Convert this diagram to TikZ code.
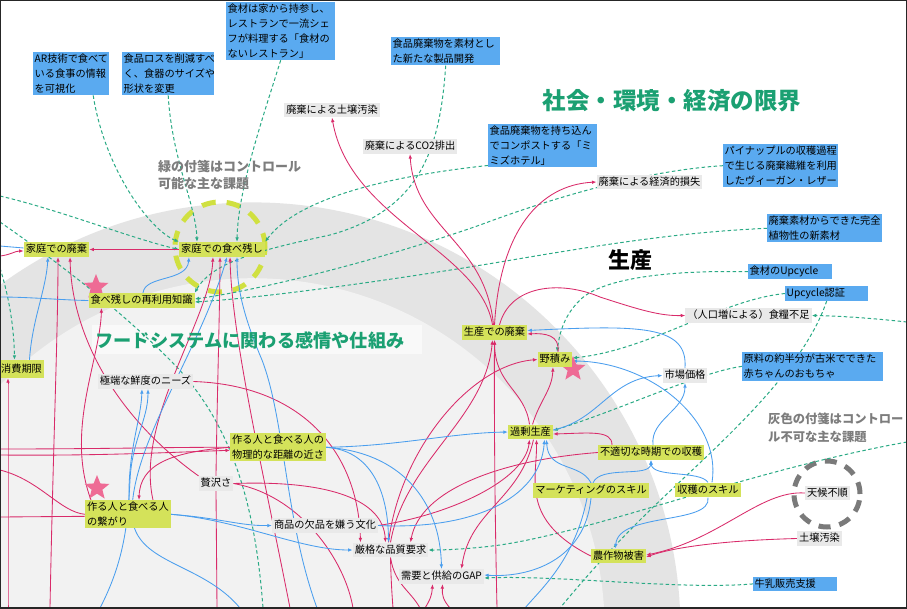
\documentclass[tikz,border=0pt]{standalone}
\usepackage{fontspec}
\setmainfont{Noto Sans CJK JP}
\usetikzlibrary{arrows.meta,shapes.geometric}
\definecolor{pinkL}{HTML}{D92B6A}
\definecolor{blueL}{HTML}{4A9EEE}
\definecolor{greenD}{HTML}{2AAA85}
\definecolor{blueF}{HTML}{5AAAF0}
\definecolor{limeF}{HTML}{D4E25A}
\definecolor{grayF}{HTML}{E9E9E9}
\definecolor{bandC}{HTML}{E4E4E4}
\definecolor{innerC}{HTML}{F2F2F2}
\definecolor{titleG}{HTML}{1BA072}
\definecolor{starC}{HTML}{EE6B95}
\definecolor{limeC}{HTML}{D0E040}
\definecolor{grayT}{HTML}{7D7D7D}
\definecolor{grayCirc}{HTML}{7A7A7A}
\pgfdeclarelayer{bg}
\pgfdeclarelayer{edges}
\pgfsetlayers{bg,edges,main}
\tikzset{
  one/.style={font=\fontsize{10.2}{12}\selectfont, inner xsep=2pt, inner ysep=2pt, text height=8.5pt, text depth=2.3pt},
  lime/.style={one, fill=limeF},
  gbox/.style={one, fill=grayF},
  limetwo/.style={font=\fontsize{10.2}{14.8}\selectfont, fill=limeF, inner xsep=2pt, inner ysep=2pt, align=left, anchor=north west},
  bbox/.style={font=\fontsize{10.2}{14.8}\selectfont, fill=blueF, inner xsep=1.5pt, inner ysep=2pt, align=left, anchor=north west},
  pkn/.style={draw=pinkL, line width=0.85pt},
  pk/.style={pkn, -{Latex[length=4.5pt,width=3.6pt]}},
  bln/.style={draw=blueL, line width=0.85pt},
  bl/.style={bln, -{Latex[length=4.5pt,width=3.6pt]}},
  gdn/.style={draw=greenD, line width=1pt, dash pattern=on 3.5pt off 2.5pt},
  gd/.style={gdn, -{Latex[length=4.5pt,width=3.6pt]}},
  starbox/.style={star, star points=5, star point ratio=2.3, fill=starC, minimum size=26pt, inner sep=0pt},
}
\begin{document}
\begin{tikzpicture}[x=1pt,y=-1pt]
\useasboundingbox (0,0) rectangle (907,608);
\begin{pgfonlayer}{bg}
  \clip (0,0) rectangle (907,608);
  \fill[white] (0,0) rectangle (907,608);
  \fill[bandC] (252.7,630.2) circle[radius=427.8pt];
  \fill[innerC] (252.7,630.2) circle[radius=352pt];
  \fill[white, opacity=0.6] (92,325) rectangle (422,354);
\end{pgfonlayer}

% titles
\node[font=\fontsize{23.5}{28}\selectfont\bfseries, text=titleG] (t1) at (672,101) {社会・環境・経済の限界};
\node[font=\fontsize{22}{26}\selectfont\bfseries] (t2) at (630,260) {生産};
\node[font=\fontsize{18.2}{22}\selectfont\bfseries, text=titleG] (t3) at (250,340) {フードシステムに関わる感情や仕組み};
\node[font=\fontsize{13}{17.5}\selectfont\bfseries, text=grayT, align=left, anchor=north west, inner sep=0pt] (t4) at (158,160) {緑の付箋はコントロール\\可能な主な課題};
\node[font=\fontsize{12.3}{17.5}\selectfont\bfseries, text=grayT, align=left, anchor=north west, inner sep=0pt] (t5) at (768,413) {灰色の付箋はコントロー\\ル不可な主な課題};

% stars
\node[starbox] (s1) at (96,287) {};
\node[starbox] (s2) at (573,369) {};
\node[starbox] (s3) at (97,488) {};

% blue boxes
\node[bbox, text width=73pt] (b1) at (33,52) {AR技術で食べて\\いる食事の情報\\を可視化};
\node[bbox, text width=89pt] (b2) at (122,52) {食品ロスを削減すべ\\く、食器のサイズや\\形状を変更};
\node[bbox, text width=106pt] (b3) at (226,2) {食材は家から持参し、\\レストランで一流シェ\\フが料理する「食材の\\ないレストラン」};
\node[bbox, text width=106pt] (b4) at (391,37) {食品廃棄物を素材とし\\た新たな製品開発};
\node[bbox, text width=106pt] (b5) at (488,124) {食品廃棄物を持ち込ん\\でコンポストする「ミ\\ミズホテル」};
\node[bbox, text width=112pt] (b6) at (723,144) {パイナップルの収穫過程\\で生じる廃棄繊維を利用\\したヴィーガン・レザー};
\node[bbox, text width=112pt] (b7) at (767,214) {廃棄素材からできた完全\\植物性の新素材};
\node[bbox, text width=81pt] (b8) at (748,264) {食材のUpcycle};
\node[bbox, text width=80pt] (b9) at (785,286) {Upcycle認証};
\node[bbox, text width=138pt] (b10) at (742,352) {原料の約半分が古米でできた\\赤ちゃんのおもちゃ};
\node[bbox, text width=81pt] (b11) at (753,577) {牛乳販売支援};

% gray boxes
\node[gbox] (g1) at (332,110) {廃棄による土壌汚染};
\node[gbox] (g2) at (410,146.5) {廃棄によるCO2排出};
\node[gbox] (g3) at (649.5,182) {廃棄による経済的損失};
\node[gbox] (g4) at (748.5,315.5) {（人口増による）食糧不足};
\node[gbox] (g5) at (685,375.5) {市場価格};
\node[gbox] (g6) at (145.5,381.5) {極端な鮮度のニーズ};
\node[gbox] (g7) at (216,483.5) {贅沢さ};
\node[gbox] (g8) at (325,525.5) {商品の欠品を嫌う文化};
\node[gbox] (g9) at (390.5,550) {厳格な品質要求};
\node[gbox] (g10) at (441.5,576.5) {需要と供給のGAP};
\node[gbox] (g11) at (827.5,493) {天候不順};
\node[gbox] (g12) at (819.5,538.5) {土壌汚染};

% lime boxes
\node[lime] (l1) at (56.5,249.5) {家庭での廃棄};
\node[lime] (l2) at (222,249.5) {家庭での食べ残し};
\node[lime] (l3) at (141.5,300.5) {食べ残しの再利用知識};
\node[lime, minimum height=18pt] (l4) at (21.5,369) {消費期限};
\node[lime] (l5) at (494.5,332.5) {生産での廃棄};
\node[lime] (l6) at (555,359.5) {野積み};
\node[lime] (l7) at (530.5,432) {過剰生産};
\node[limetwo] (l8) at (230,433) {作る人と食べる人の\\物理的な距離の近さ};
\node[limetwo] (l9) at (85,500) {作る人と食べる人\\の繋がり};
\node[lime] (l10) at (651,452.5) {不適切な時期での収穫};
\node[lime] (l11) at (591,490.5) {マーケティングのスキル};
\node[lime] (l12) at (708,490) {収穫のスキル};
\node[lime] (l13) at (618.5,556) {農作物被害};

% free ends
\coordinate (eL1) at (0,196);
\coordinate (eL2) at (0,268);
\coordinate (eL3) at (0,256);
\coordinate (eL4) at (0,449);
\coordinate (eL5) at (0,455);
\coordinate (eL6) at (0,470);
\coordinate (eL7) at (0,517);
\coordinate (eL8) at (0,246);
\coordinate (eL9) at (0,297);
\coordinate (eL10) at (0,222);
\coordinate (eR1) at (907,322);
\coordinate (eR2) at (907,442);
\coordinate (bt0) at (263,608);
\coordinate (bt1) at (50,608);
\coordinate (bt2) at (217,608);
\coordinate (bt3) at (290,608);
\coordinate (bt4) at (497,608);
\coordinate (bt5) at (8,608);
\coordinate (bt6) at (353,608);
\coordinate (bt7) at (393,608);
\coordinate (bt8) at (420,608);
\coordinate (bt9) at (425,608);
\coordinate (bt10) at (450,608);
\coordinate (bt12) at (100,608);
\coordinate (bt13) at (240,608);
\coordinate (bt14) at (317,608);
\coordinate (bt15) at (525,608);
\coordinate (bt16) at (560,608);

\begin{pgfonlayer}{edges}
% dashed circles
\draw[limeC, line width=5pt, dash pattern=on 14pt off 11pt] (220,247) circle[radius=45pt];
\draw[grayCirc, line width=5pt, dash pattern=on 12pt off 9pt] (827,494) circle[radius=33pt];

% green dashed
\draw[gd] ([xshift=22pt]b1.south) .. controls (105,170) and (150,230) .. (l2.north west);
\draw[gd] (b2.south) .. controls (172,160) and (196,205) .. ([xshift=-25pt]l2.north);
\draw[gd] (b3.south) .. controls (262,120) and (238,190) .. ([xshift=15pt]l2.north);
\draw[gd] (eL1) .. controls (60,210) and (130,238) .. (l2.west);
\draw[gd] ([yshift=2pt]b5.south west) .. controls (400,175) and (300,195) .. (l2.north east);
\draw[gd] (b4.south) .. controls (440,150) and (420,210) .. (330,235) .. controls (260,250) and (212,262) .. (l3.north east);
\draw[gd] (b6.west) .. controls (650,170) and (560,195) .. (480,225) .. controls (380,260) and (260,290) .. ([yshift=1.5pt]l3.east);
\draw[gd] (b7.west) .. controls (680,232) and (600,245) .. (500,262) .. controls (380,282) and (260,298) .. ([yshift=-1.5pt]l3.east);
\draw[gd] (b8.west) .. controls (660,270) and (600,280) .. (580,300) .. controls (565,315) and (560,330) .. ([xshift=2pt]l6.north);
\draw[gd] (b9.west) .. controls (720,300) and (650,350) .. ([yshift=1.5pt]l6.east);
\draw[gdn] (b9.south) .. controls (800,380) and (700,460) .. (640,520) .. controls (600,560) and (575,590) .. (bt16);
\draw[gd] (eR1) .. controls (870,318) and (840,316) .. (g4.east);
\draw[gd] (b10.west) .. controls (700,372) and (620,410) .. ([yshift=1.5pt]l7.east);
\draw[gd] (eR2) .. controls (750,470) and (600,530) .. (500,545) .. controls (470,549) and (445,550) .. (g9.east);
\draw[gd] (b11.west) .. controls (680,590) and (560,575) .. ([yshift=-1.5pt]g10.east);
\draw[gd] (eL2) .. controls (10,300) and (14,330) .. ([xshift=-7pt]l4.north);
\draw[gdn] (eL10) .. controls (40,250) and (110,300) .. (170,360) .. controls (230,420) and (255,500) .. (bt0);

% pink
\draw[pk] (l2.west) -- (l1.east);
\draw[pk] (eL3) .. controls (10,255) and (15,251) .. ([yshift=-1.5pt]l1.west);
\draw[pk] (bt1) .. controls (53,450) and (58,330) .. ([xshift=1.5pt]l1.south);
\draw[pk] (g7.north west) .. controls (120,420) and (72,340) .. ([xshift=13.5pt]l1.south);
\draw[pk] ([xshift=-37pt]l9.north) .. controls (65,430) and (100,360) .. ([xshift=-40pt]l3.south);
\draw[pk] ([xshift=25pt]l9.north) .. controls (135,420) and (210,320) .. ([xshift=-9pt]l2.south);
\draw[pk] (g7.north) .. controls (217,400) and (220,300) .. ([xshift=-2pt]l2.south);
\draw[pkn] (g7.south) -- (bt2);
\draw[pk] (bt3) .. controls (265,480) and (232,340) .. ([xshift=8pt]l2.south);
\draw[pk] ([xshift=-2pt]l5.north) .. controls (480,250) and (350,220) .. (g1.south);
\draw[pk] ([xshift=-1pt]l5.north) .. controls (485,240) and (415,230) .. (g2.south);
\draw[pk] (l5.north) .. controls (500,230) and (540,185) .. (g3.west);
\draw[pk] ([xshift=5pt]l5.north) .. controls (510,285) and (560,280) .. (600,297) .. controls (640,310) and (660,316) .. (g4.west);
\draw[pk] ([xshift=3pt]l6.north) .. controls (560,335) and (545,333) .. ([yshift=-1.5pt]l5.east);
\draw[pk] ([xshift=-1pt]l7.north) .. controls (525,390) and (495,385) .. (l5.south);
\draw[pk] ([xshift=2pt]l7.north) .. controls (540,400) and (552,390) .. ([xshift=-2pt]l6.south);
\draw[pk] ([xshift=-2pt]g9.north) .. controls (400,450) and (470,365) .. (l6.west);
\draw[pk] (g9.north) .. controls (405,460) and (485,420) .. ([xshift=-2pt]l5.south);
\draw[pk] (bt4) .. controls (495,520) and (494,420) .. (l5.south);
\draw[pk] (g8.east) .. controls (450,515) and (525,480) .. ([xshift=-1pt]l7.south);
\draw[pk] (l13.west) .. controls (520,520) and (537,480) .. ([xshift=6pt]l7.south);
\draw[pk] ([xshift=-39pt]l10.north) .. controls (612,430) and (590,433) .. ([yshift=-2pt]l7.east);
\draw[pk] ([xshift=3pt]l7.south) .. controls (520,500) and (470,510) .. ([xshift=20pt]g10.north);
\draw[pk] (l10.west) .. controls (500,460) and (420,490) .. ([xshift=20pt]g9.north);
\draw[pk] (g7.east) .. controls (330,480) and (383,500) .. ([xshift=-5pt]g9.north);
\draw[pk] (g6.east) .. controls (300,385) and (358,450) .. ([xshift=-30pt]g9.north);
\draw[pk] (l8.west) .. controls (170,452) and (140,465) .. ([xshift=11pt]l9.north);
\draw[pkn] (eL4) .. controls (100,449) and (180,447) .. (l8.west);
\draw[pk] (eL5) .. controls (100,456) and (180,452) .. ([yshift=-3pt]l8.west);
\draw[pkn] (eL6) .. controls (40,480) and (60,512) .. (l9.west);
\draw[pkn] (eL7) -- ([yshift=-2pt]l9.west);
\draw[pk] (bt5) .. controls (8,500) and (8,420) .. ([xshift=-13.5pt]l4.south);
\draw[pkn] (g7.east) .. controls (300,495) and (345,560) .. (bt6);
\draw[pkn] (g9.south) .. controls (391,580) and (392,595) .. (bt7);
\draw[pkn] (g9.south) .. controls (395,585) and (410,590) .. (bt8);
\draw[pk] (bt9) .. controls (430,600) and (432,595) .. ([xshift=-9pt]g10.south);
\draw[pk] (bt10) .. controls (443,600) and (442,595) .. ([xshift=1pt]g10.south);
\draw[pk] (g11.west) .. controls (760,490) and (720,540) .. ([yshift=1pt]l13.east);
\draw[pk] (g12.west) .. controls (740,540) and (680,545) .. ([yshift=-1pt]l13.east);

% blue
\draw[bl] ([xshift=8pt]l4.north) .. controls (32,320) and (46,290) .. ([xshift=-8.5pt]l1.south);
\draw[bln] ([yshift=1.5pt]l1.west) -- (eL8);
\draw[bln] (l3.west) .. controls (60,300) and (30,297) .. (eL9);
\draw[bl] ([xshift=1.5pt]l3.north) .. controls (145,275) and (187,282) .. ([xshift=-33pt]l2.south);
\draw[bl] ([xshift=1pt]l9.north) .. controls (128,450) and (141,420) .. ([xshift=-3.5pt]g6.south);
\draw[bl] (bt12) .. controls (125,560) and (128,520) .. (130,480) .. controls (132,440) and (148,420) .. ([xshift=2.5pt]g6.south);
\draw[bl] (bt13) .. controls (200,560) and (130,565) .. (132,510) .. controls (134,440) and (200,350) .. ([xshift=5pt]l2.south);
\draw[bl] (bt14) .. controls (285,520) and (285,420) .. (262,360) .. controls (245,320) and (237,290) .. ([xshift=15pt]l2.south);
\draw[bl] (l9.east) .. controls (220,518) and (240,526) .. (g8.west);
\draw[bl] (l9.east) .. controls (240,520) and (300,550) .. (g9.west);
\draw[bl] (l8.east) .. controls (400,446) and (450,433) .. (l7.west);
\draw[bl] (l8.east) .. controls (370,450) and (388,490) .. ([xshift=-2pt]g9.north);
\draw[bl] (l8.east) .. controls (400,452) and (440,500) .. (g10.north);
\draw[bl] ([yshift=2pt]l7.east) .. controls (600,420) and (610,378) .. (g5.west);
\draw[bl] (g5.north) .. controls (688,325) and (640,325) .. ([yshift=2pt]l5.east);
\draw[bl] ([xshift=2pt]l10.north) .. controls (650,420) and (685,410) .. (g5.south);
\draw[bl] (l11.north) .. controls (580,462) and (548,472) .. ([xshift=16pt]l7.south);
\draw[bl] ([xshift=2pt]l11.north) .. controls (600,465) and (650,478) .. (l10.south);
\draw[bl] (l12.north) .. controls (700,470) and (652,478) .. (l10.south);
\draw[bl] ([xshift=4pt]l12.north) .. controls (722,420) and (650,362) .. ([yshift=-1.5pt]l6.east);
\draw[bl] (l12.south) .. controls (712,525) and (618,512) .. ([xshift=-3pt]l13.north);
\draw[bl] (l11.south) .. controls (585,560) and (530,578) .. ([yshift=1.5pt]g10.east);
\draw[bln] ([xshift=-4pt]l11.south) .. controls (575,560) and (540,590) .. (bt15);
\draw[bl] (g8.east) .. controls (470,530) and (540,500) .. ([xshift=14pt]l7.south);
\end{pgfonlayer}

\draw[black!85, line width=2.4pt] (0,0) rectangle (907,608);
\end{tikzpicture}
\end{document}
